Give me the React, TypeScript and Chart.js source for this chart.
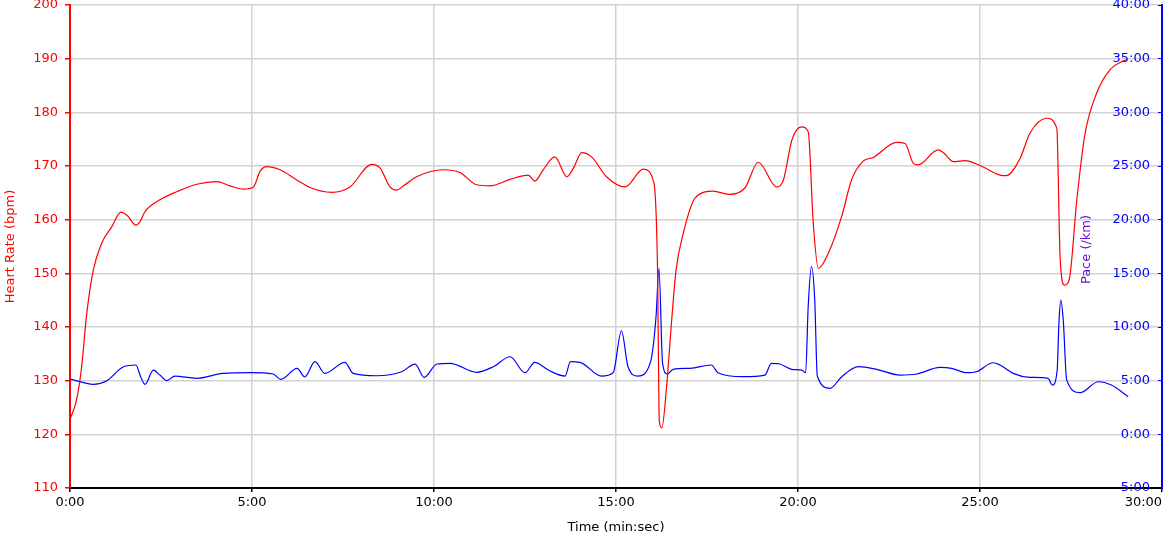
import { useEffect, useRef } from 'react';
import { Chart, registerables } from 'chart.js';

Chart.register(...registerables);

// Time in minutes (decimal)
const hrTimes = [
  0, 0.18, 0.32, 0.46, 0.64, 0.87, 1.15, 1.4, 1.58, 1.81, 1.92, 2.06, 2.47, 2.93, 3.48, 4.03, 4.4, 4.76, 5.04, 5.22,
  5.4, 5.77, 6.23, 6.59, 7.19, 7.69, 8.29, 8.52, 8.79, 8.97, 9.2, 9.52, 10.26, 10.71, 11.17, 11.54, 12.09, 12.59, 12.77, 13.0,
  13.32, 13.65, 13.83, 14.06, 14.33, 14.74, 15.25, 15.75, 16.04, 16.14, 16.19, 16.26, 16.39, 16.53, 16.65, 16.85, 17.17, 17.67, 18.13, 18.54,
  18.91, 19.41, 19.6, 19.83, 20.1, 20.28, 20.42, 20.56, 20.83, 21.2, 21.47, 21.79, 22.07, 22.71, 22.94, 23.17, 23.3, 23.85, 23.99, 24.27,
  24.59, 25.0, 25.55, 25.72, 26.1, 26.37, 26.83, 27.11, 27.2, 27.32, 27.45, 27.66, 27.88, 28.2, 28.57, 28.98, 29.05,
];
const hrValues = [
  122.8, 126.4, 132.6, 142.5, 150.6, 155.6, 158.7, 161.4, 160.7, 159.0, 159.6, 161.5, 163.7, 165.2, 166.6, 167.1, 166.3, 165.7, 166.1, 169.0,
  169.9, 169.3, 167.4, 166.0, 165.1, 166.1, 170.3, 169.6, 166.1, 165.5, 166.5, 168.0, 169.3, 168.8, 166.5, 166.3, 167.5, 168.3, 167.2, 169.3,
  171.7, 168.0, 169.6, 172.5, 171.7, 168.0, 166.1, 169.4, 166.9, 151.2, 122.4, 121.2, 128.9, 141.3, 150.6, 157.5, 164.0, 165.3, 164.7, 165.9,
  170.7, 166.1, 167.4, 174.8, 177.3, 176.4, 159.3, 150.9, 153.7, 160.6, 167.4, 170.9, 171.6, 174.4, 174.2, 170.5, 170.2, 173.0, 172.5, 170.8,
  171.0, 170.1, 168.3, 168.2, 171.4, 176.1, 178.9, 177.0, 153.1, 147.8, 148.8, 163.7, 175.8, 183.5, 187.9, 189.7, 189.9,
];

// Pace in minutes per km
const paceTimes = [
  0, 0.64, 1.0, 1.47, 1.81, 1.94, 2.06, 2.29, 2.47, 2.66, 2.88, 3.48, 4.2, 4.95, 5.58, 5.79, 6.24, 6.45, 6.73, 7.0,
  7.55, 7.78, 8.43, 9.11, 9.48, 9.73, 10.08, 10.44, 11.17, 11.63, 12.09, 12.5, 12.77, 13.14, 13.6, 13.75, 14.01, 14.6, 14.92, 15.15,
  15.33, 15.6, 15.95, 16.1, 16.18, 16.28, 16.41, 16.57, 17.03, 17.62, 17.8, 18.49, 19.09, 19.27, 19.5, 19.83, 20.1, 20.21, 20.28, 20.37,
  20.46, 20.53, 20.88, 21.2, 21.66, 22.16, 22.8, 23.26, 23.9, 24.22, 24.63, 24.9, 25.36, 25.55, 25.91, 26.37, 26.87, 26.99, 27.12, 27.17,
  27.22, 27.29, 27.38, 27.75, 28.25, 28.61, 29.07,
];
const paceValues = [
  5.15, 4.66, 4.97, 6.3, 6.46, 5.37, 4.66, 5.99, 5.52, 5.0, 5.43, 5.22, 5.68, 5.74, 5.62, 5.12, 6.15, 5.34, 6.77, 5.68,
  6.71, 5.68, 5.46, 5.83, 6.55, 5.31, 6.55, 6.62, 5.78, 6.3, 7.23, 5.74, 6.71, 5.99, 5.43, 6.77, 6.71, 5.43, 5.74, 9.65,
  6.3, 5.43, 6.77, 10.96, 15.47, 6.62, 5.62, 6.06, 6.15, 6.46, 5.74, 5.37, 5.52, 6.62, 6.55, 6.06, 5.99, 5.74, 11.89, 15.62,
  12.5, 5.43, 4.28, 5.37, 6.3, 6.06, 5.52, 5.62, 6.24, 6.15, 5.74, 5.83, 6.67, 6.46, 5.68, 5.31, 5.22, 4.59, 5.99, 10.5,
  12.5, 10.5, 5.1, 3.88, 4.9, 4.59, 3.5,
];

const xTickValues = [0, 5, 10, 15, 20, 25, 30];
const hrTickValues = [110, 120, 130, 140, 150, 160, 170, 180, 190, 200];
const paceTickValues = [-5, 0, 5, 10, 15, 20, 25, 30, 35, 40];

const paceTitlePlugin = {
  id: 'paceTitle',
  afterDraw(chart: any) {
    const { ctx, chartArea } = chart;
    const s = chart.scales.y2;
    ctx.save();
    ctx.translate(s.left - 75, (chartArea.top + chartArea.bottom) / 2 + 3);
    ctx.rotate(-Math.PI / 2);
    ctx.font = '13px "DejaVu Sans"';
    ctx.fillStyle = '#6a10d8';
    ctx.textAlign = 'center';
    ctx.textBaseline = 'middle';
    ctx.fillText('Pace (/km)', 0, 0);
    ctx.restore();
  },
};

export default function App() {
  const canvasRef = useRef<HTMLCanvasElement | null>(null);

  useEffect(() => {
    if (!canvasRef.current) return;
    Chart.defaults.font.family = '"DejaVu Sans", Verdana, sans-serif';
    Chart.defaults.font.size = 13;
    const grid = '#d2d2d2';
    const chart = new Chart(canvasRef.current, {
      type: 'line',
      data: {
        datasets: [
          {
            label: 'Heart Rate',
            data: hrTimes.map((t, i) => ({ x: t, y: hrValues[i] })),
            borderColor: '#ff0000',
            borderWidth: 1.2,
            pointRadius: 0,
            cubicInterpolationMode: 'monotone',
            yAxisID: 'y',
          },
          {
            label: 'Pace',
            data: paceTimes.map((t, i) => ({ x: t, y: paceValues[i] })),
            borderColor: '#0000ff',
            borderWidth: 1.2,
            pointRadius: 0,
            cubicInterpolationMode: 'monotone',
            yAxisID: 'y2',
          },
        ],
      },
      options: {
        animation: false,
        responsive: true,
        maintainAspectRatio: false,
        layout: { padding: { top: 5, left: 0, right: 0, bottom: 0 } },
        plugins: { legend: { display: false }, tooltip: { enabled: false } },
        scales: {
          x: {
            type: 'linear',
            min: 0,
            max: 30,
            afterBuildTicks: (s: any) => { s.ticks = xTickValues.map((v) => ({ value: v })); },
            ticks: {
              color: '#000',
              padding: 3,
              maxRotation: 0,
              autoSkip: false,
              callback: (v: any) => (v === 30 ? '30:00' + '\u00a0'.repeat(9) : `${v}:00`),
            },
            grid: { color: grid, lineWidth: 1.5, tickColor: '#000', tickLength: 4 },
            border: { color: '#000', width: 2 },
            title: { display: true, text: 'Time (min:sec)', color: '#000', font: { size: 13 }, padding: { top: 0, bottom: 3 } },
            afterFit: (s: any) => { s.height = 50; s.paddingLeft = 0; s.paddingRight = 0; },
          },
          y: {
            position: 'left',
            min: 110,
            max: 200,
            afterBuildTicks: (s: any) => { s.ticks = hrTickValues.map((v) => ({ value: v })); },
            ticks: { color: '#ff0000', padding: 7 },
            grid: { color: grid, lineWidth: 1.5, tickColor: '#ff0000', tickLength: 5 },
            border: { color: '#ff0000', width: 2 },
            title: { display: true, text: 'Heart Rate (bpm)', color: '#ff0000', font: { size: 13 }, padding: { top: 3, bottom: 0 } },
            afterFit: (s: any) => { s.width = 70; s.paddingTop = 0; s.paddingBottom = 0; },
          },
          y2: {
            position: 'right',
            min: -5,
            max: 40,
            afterBuildTicks: (s: any) => { s.ticks = paceTickValues.map((v) => ({ value: v })); },
            ticks: {
              color: '#0000ff',
              mirror: true,
              padding: -12,
              callback: (v: any) => `${Math.abs(v)}:00`,
            },
            grid: { drawOnChartArea: false, tickColor: '#0000ff', tickLength: -4 },
            border: { color: '#0000ff', width: 2 },
            afterFit: (s: any) => { s.width = 8; s.paddingTop = 0; s.paddingBottom = 0; },
          },
        },
      },
      plugins: [paceTitlePlugin],
    } as any);
    return () => chart.destroy();
  }, []);

  return (
    <div style={{ position: 'absolute', left: 0, top: 0, width: 1170, height: 538, background: '#fff' }}>
      <canvas ref={canvasRef} />
    </div>
  );
}
